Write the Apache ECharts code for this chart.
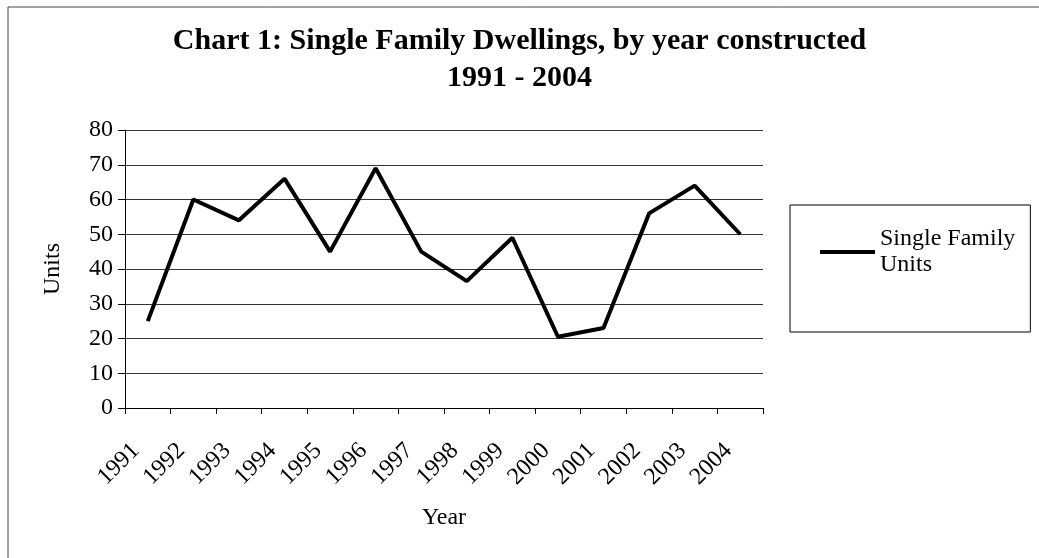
<!DOCTYPE html>
<html>
<head>
<meta charset="utf-8">
<script src="https://cdn.jsdelivr.net/npm/echarts@6/dist/echarts.min.js"></script>
<style>
html,body{margin:0;padding:0;background:#fff;}
#chart{width:1039px;height:558px;}
</style>
</head>
<body>
<div id="chart"></div>
<script>
const years = ['1991','1992','1993','1994','1995','1996','1997','1998','1999','2000','2001','2002','2003','2004'];
const singleFamilyUnits = [25, 60, 54, 66, 45, 69, 45, 36.5, 49, 20.5, 23, 56, 64, 50];
const seriesName = 'Single Family Units';
const titleText = 'Chart 1: Single Family Dwellings, by year constructed\n1991 - 2004';

const FONT = '"Liberation Serif", "Times New Roman", serif';
const chart = echarts.init(document.getElementById('chart'), null, {renderer: 'canvas'});
chart.setOption({
  backgroundColor: '#ffffff',
  animation: false,
  textStyle: {fontFamily: FONT, color: '#000'},
  title: {
    text: titleText,
    left: 'center',
    top: 23,
    padding: [0, 0, 0, 19],
    textStyle: {fontFamily: FONT, fontSize: 30, fontWeight: 'bold', color: '#000', lineHeight: 37}
  },
  legend: {
    data: [seriesName],
    orient: 'vertical',
    left: 790,
    top: 205,
    padding: [8, 15, 41, 30],
    borderColor: '#000',
    borderWidth: 1,
    icon: 'rect',
    itemWidth: 55,
    itemHeight: 4,
    formatter: function () { return 'Single Family\nUnits'; },
    textStyle: {fontFamily: FONT, fontSize: 24, color: '#000', lineHeight: 26, padding: [26, 0, 0, 0]}
  },
  grid: {left: 125, right: 276, top: 130, bottom: 150, containLabel: false},
  xAxis: {
    type: 'category',
    data: years,
    boundaryGap: true,
    name: 'Year',
    nameLocation: 'middle',
    nameGap: 98,
    nameTextStyle: {fontFamily: FONT, fontSize: 24, color: '#000'},
    axisLine: {lineStyle: {color: '#000', width: 1}},
    axisTick: {show: true, alignWithLabel: false, length: 6, lineStyle: {color: '#000'}},
    axisLabel: {interval: 0, rotate: 45, margin: 27, padding: [0, 17, 0, 0], fontFamily: FONT, fontSize: 24, color: '#000'},
    splitLine: {show: false}
  },
  yAxis: {
    type: 'value',
    min: 0,
    max: 80,
    interval: 10,
    name: 'Units',
    nameLocation: 'middle',
    nameGap: 60,
    nameTextStyle: {fontFamily: FONT, fontSize: 24, color: '#000'},
    axisLine: {show: true, lineStyle: {color: '#000', width: 1}},
    axisTick: {show: true, length: 7, lineStyle: {color: '#000'}},
    axisLabel: {margin: 12, fontFamily: FONT, fontSize: 24, color: '#000'},
    splitLine: {show: true, lineStyle: {color: '#333', width: 1}}
  },
  series: [{
    name: seriesName,
    type: 'line',
    data: singleFamilyUnits,
    showSymbol: false,
    symbol: 'none',
    lineStyle: {color: '#000', width: 4},
    itemStyle: {color: '#000'}
  }],
  graphic: [
    {type: 'line', shape: {x1: 8, y1: 7, x2: 1039, y2: 7}, style: {stroke: '#444', lineWidth: 1}, silent: true},
    {type: 'line', shape: {x1: 8, y1: 7, x2: 8, y2: 558}, style: {stroke: '#444', lineWidth: 1}, silent: true}
  ]
});
</script>
</body>
</html>
